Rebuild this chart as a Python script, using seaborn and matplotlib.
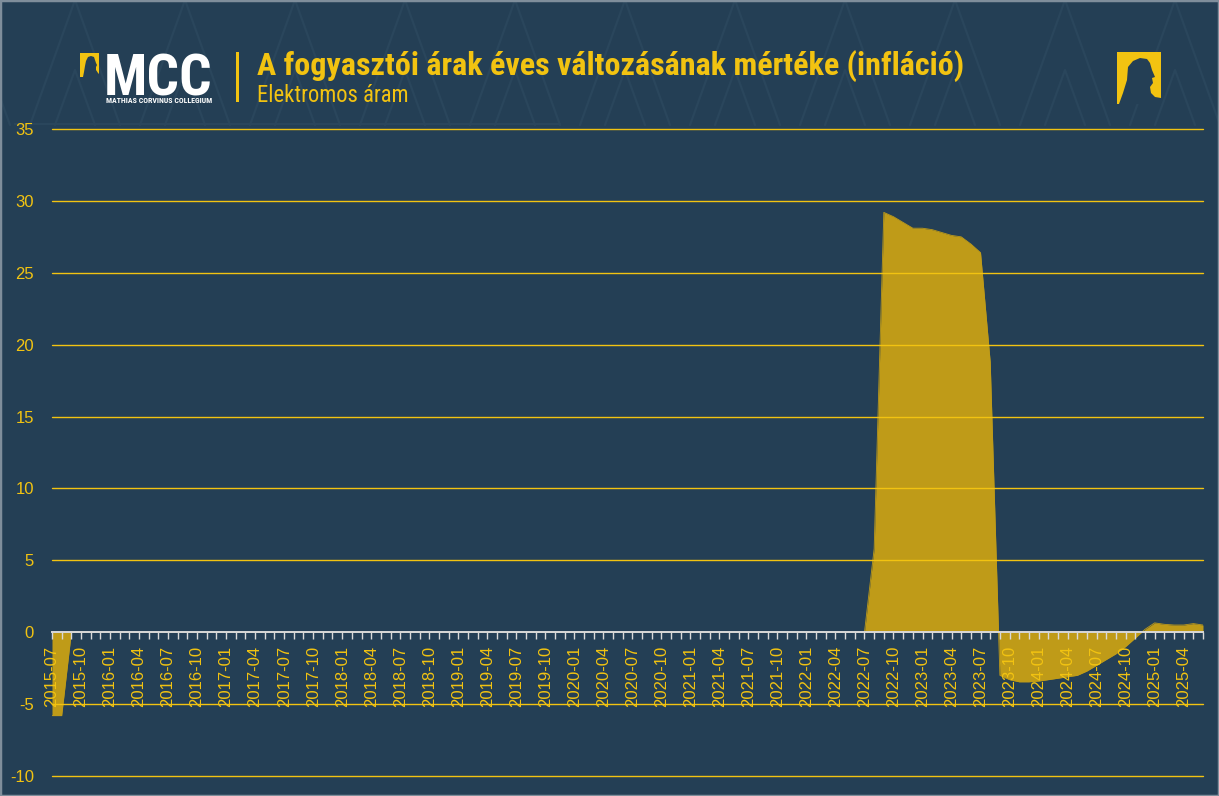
import numpy as np
import pandas as pd
import matplotlib
matplotlib.use("Agg")
import matplotlib.pyplot as plt
import seaborn as sns
from matplotlib import font_manager as fm
from matplotlib.patches import Rectangle, Polygon
from matplotlib.lines import Line2D

# ---------------- data ----------------
months = pd.period_range("2015-07", "2025-06", freq="M").strftime("%Y-%m").tolist()

values_2015 = [-5.8, -5.8, 0.0, 0.0, 0.0, 0.0]
values_2016 = [0.0, 0.0, 0.0, 0.0, 0.0, 0.0, 0.0, 0.0, 0.0, 0.0, 0.0, 0.0]
values_2017 = [0.0, 0.0, 0.0, 0.0, 0.0, 0.0, 0.0, 0.0, 0.0, 0.0, 0.0, 0.0]
values_2018 = [0.0, 0.0, 0.0, 0.0, 0.0, 0.0, 0.0, 0.0, 0.0, 0.0, 0.0, 0.0]
values_2019 = [0.0, 0.0, 0.0, 0.0, 0.0, 0.0, 0.0, 0.0, 0.0, 0.0, 0.0, 0.0]
values_2020 = [0.0, 0.0, 0.0, 0.0, 0.0, 0.0, 0.0, 0.0, 0.0, 0.0, 0.0, 0.0]
values_2021 = [0.0, 0.0, 0.0, 0.0, 0.0, 0.0, 0.0, 0.0, 0.0, 0.0, 0.0, 0.0]
values_2022 = [0.0, 0.0, 0.0, 0.0, 0.0, 0.0, 0.0, 5.8, 29.2, 28.9, 28.5, 28.1]
values_2023 = [28.1, 28.0, 27.8, 27.6, 27.5, 27.0, 26.4, 18.8, -3.0, -3.3, -3.45, -3.45]
values_2024 = [-3.4, -3.3, -3.2, -3.1, -3.0, -2.7, -2.3, -1.9, -1.5, -1.0, -0.4, 0.2]
values_2025 = [0.65, 0.55, 0.5, 0.5, 0.6, 0.5]

values = (values_2015 + values_2016 + values_2017 + values_2018 + values_2019
          + values_2020 + values_2021 + values_2022 + values_2023 + values_2024
          + values_2025)

y_ticks = [-10, -5, 0, 5, 10, 15, 20, 25, 30, 35]
title = "A fogyasztói árak éves változásának mértéke (infláció)"
subtitle = "Elektromos áram"
logo_text = "MCC"
logo_sub = "MATHIAS CORVINUS COLLEGIUM"

# ---------------- style ----------------
BG = "#243f55"
GOLD = "#f2c311"
FILL = "#bf9b18"
AXIS = "#d9d9d9"
PATTERN = "#2a465c"

sns.set_theme(style="white")
plt.rcParams["font.family"] = ["Liberation Sans", "DejaVu Sans"]


def _weight(f):
    w = f.weight
    if isinstance(w, (int, float)):
        return int(w)
    return {"bold": 700, "normal": 400, "regular": 400, "medium": 500,
            "semibold": 600, "light": 300}.get(str(w).lower(), 400)


def condensed_font(bold):
    prio = ["liberation sans narrow", "roboto condensed", "open sans condensed",
            "dejavu sans", "noto sans", "open sans", "roboto", "inter"]
    cands = []
    for f in fm.fontManager.ttflist:
        nm = f.name.lower()
        st = str(f.stretch).lower()
        cond = ("condensed" in nm or "narrow" in nm or "condensed" in st or "narrow" in st
                or "condensed" in f.fname.lower())
        if not cond or "extra" in st or "ultra" in st or "extra" in nm:
            continue
        if f.style != "normal":
            continue
        w = _weight(f)
        if bold and w < 600:
            continue
        if not bold and (w < 350 or w > 500):
            continue
        rank = next((i for i, p in enumerate(prio) if nm.startswith(p)), len(prio))
        cands.append((rank, f.fname))
    if cands:
        cands.sort()
        return fm.FontProperties(fname=cands[0][1])
    return fm.FontProperties(family=["Liberation Sans", "DejaVu Sans"],
                             weight="bold" if bold else "normal")


FP_BOLD = condensed_font(True)
FP_REG = condensed_font(False)

W, H = 1219, 796
fig = plt.figure(figsize=(W / 100, H / 100), dpi=100, facecolor=BG)


def fx(x):
    return x / W


def fy(y):
    return 1 - y / H


renderer = fig.canvas.get_renderer()


def fit_text(x, y, s, width_px, fp, size, **kw):
    p = fp.copy()
    p.set_size(size)
    t = fig.text(fx(x), fy(y), s, fontproperties=p, **kw)
    w = t.get_window_extent(renderer).width
    if w > 0:
        t.set_fontsize(size * width_px / w)
    return t


# header background pattern (faint chevrons)
for x0 in range(-80, 1300, 110):
    fig.add_artist(Line2D([fx(x0), fx(x0 + 45), fx(x0 + 90)], [fy(125), fy(0), fy(125)],
                          transform=fig.transFigure, color=PATTERN, lw=1.6, zorder=0))
    fig.add_artist(Line2D([fx(x0 + 25), fx(x0 + 45), fx(x0 + 65)], [fy(125), fy(70), fy(125)],
                          transform=fig.transFigure, color=PATTERN, lw=1.6, zorder=0))
fig.add_artist(Line2D([fx(15), fx(560)], [fy(124), fy(124)], transform=fig.transFigure,
                      color=PATTERN, lw=1.6, zorder=0))

# ---------------- chart ----------------
ax = fig.add_axes([fx(52), fy(776), (1203 - 52) / W, (776 - 129) / H])
ax.set_facecolor("none")
df = pd.DataFrame({"idx": np.arange(len(months)), "month": months, "value": values})

ax.fill_between(df["idx"], df["value"], 0, color=FILL, linewidth=0, zorder=2)
sns.lineplot(data=df, x="idx", y="value", ax=ax, color=FILL, linewidth=0.6, zorder=2)

for yv in y_ticks:
    if yv != 0:
        ax.axhline(yv, color=GOLD, lw=1.0, zorder=3, clip_on=False)

ax.set_xlim(0, len(months) - 1)
ax.set_ylim(-10, 35)

for s in ["top", "right", "left"]:
    ax.spines[s].set_visible(False)
ax.spines["bottom"].set_position(("data", 0))
ax.spines["bottom"].set_color(AXIS)
ax.spines["bottom"].set_linewidth(1.4)
ax.spines["bottom"].set_zorder(4)
ax.set_axisbelow(False)
ax.xaxis.set_zorder(5)
ax.yaxis.set_zorder(5)

ax.set_xticks(df["idx"])
ax.set_xticklabels([m if i % 3 == 0 else "" for i, m in enumerate(months)],
                   rotation=90, color=GOLD, fontsize=12)
ax.tick_params(axis="x", direction="out", length=5, width=1, color=AXIS, pad=5, bottom=True)
ax.set_yticks(y_ticks)
ax.set_yticklabels([str(v) for v in y_ticks], color=GOLD, fontsize=12)
ax.tick_params(axis="y", length=0, pad=13)
ax.set_xlabel("")
ax.set_ylabel("")
ax.grid(False)

# ---------------- header ----------------
fit_text(257, 75, title, 706, FP_BOLD, 20, color=GOLD, va="baseline", ha="left")
fit_text(257, 102, subtitle, 151, FP_REG, 13, color=GOLD, va="baseline", ha="left")
fig.add_artist(Rectangle((fx(235.5), fy(102)), 3 / W, 50 / H, transform=fig.transFigure,
                         facecolor=GOLD, edgecolor="none"))

# left logo
fig.add_artist(Rectangle((fx(80), fy(77)), 19 / W, 24 / H, transform=fig.transFigure,
                         facecolor=GOLD, edgecolor="none"))
sil_small = [(83, 77), (84, 72), (85, 66), (86, 61), (88, 57), (91, 56), (94, 57), (95, 60),
             (96, 63), (97, 65), (96, 67), (96, 70), (98, 73), (99, 74), (99, 77)]
fig.add_artist(Polygon([(fx(a), fy(b)) for a, b in sil_small], closed=True,
                       transform=fig.transFigure, facecolor=BG, edgecolor="none"))
fit_text(104, 95, logo_text, 109, FP_BOLD, 42, color="white", va="baseline", ha="left")
fit_text(106, 103, logo_sub, 107, FP_BOLD, 6, color="white", va="baseline", ha="left")

# right logo
fig.add_artist(Rectangle((fx(1117), fy(104)), 44 / W, 52 / H, transform=fig.transFigure,
                         facecolor=GOLD, edgecolor="none"))
sil = [(1119, 104), (1123, 93), (1127, 80), (1128, 67), (1133, 61), (1140, 58), (1147, 59),
       (1150, 63), (1152, 70), (1155, 77), (1152, 78), (1153, 83), (1150, 87),
       (1151, 93), (1155, 97), (1161, 98), (1161, 104)]
fig.add_artist(Polygon([(fx(a), fy(b)) for a, b in sil], closed=True,
                       transform=fig.transFigure, facecolor=BG, edgecolor="none"))

# border
fig.add_artist(Rectangle((0, 0), 1, 1, transform=fig.transFigure, fill=False,
                         edgecolor="#7f8e9b", lw=2.5))

fig.savefig("out.png", dpi=100, facecolor=BG)
